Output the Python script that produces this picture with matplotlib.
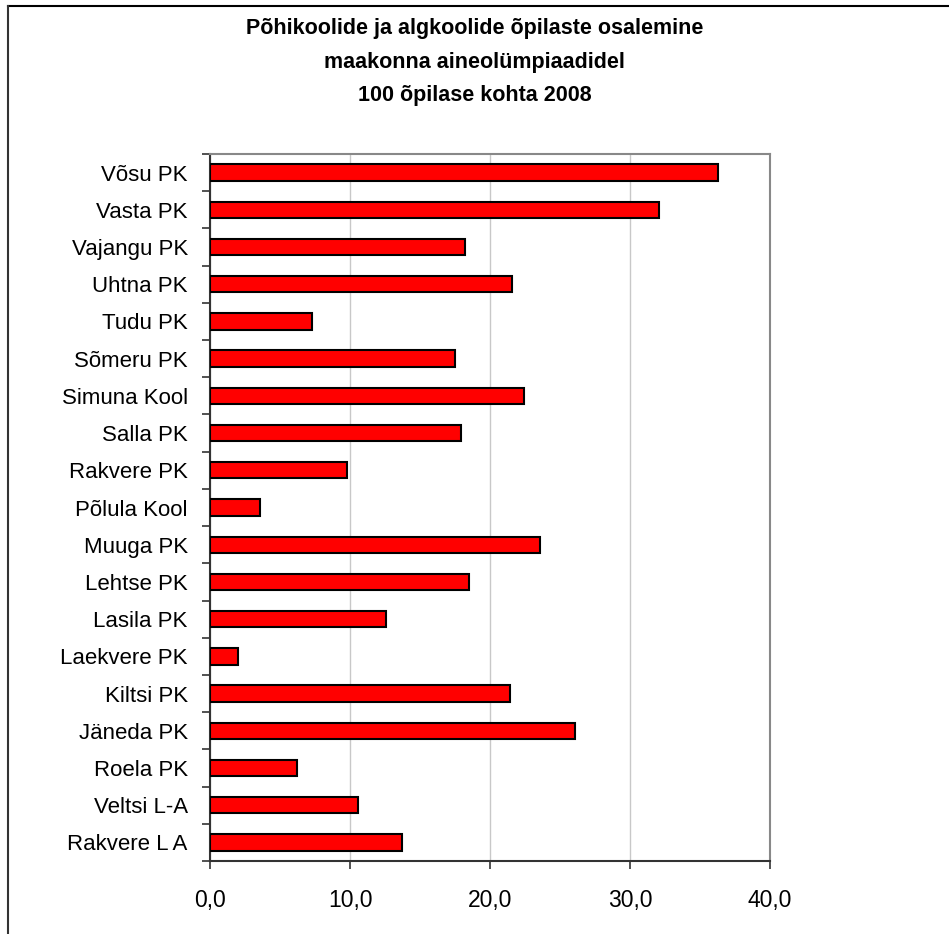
import matplotlib.pyplot as plt
from matplotlib.lines import Line2D
import numpy as np

plt.rcParams['font.family'] = ['Liberation Sans', 'DejaVu Sans']

schools = ["Võsu PK", "Vasta PK", "Vajangu PK", "Uhtna PK", "Tudu PK", "Sõmeru PK",
           "Simuna Kool", "Salla PK", "Rakvere PK", "Põlula Kool", "Muuga PK",
           "Lehtse PK", "Lasila PK", "Laekvere PK", "Kiltsi PK", "Jäneda PK",
           "Roela PK", "Veltsi L-A", "Rakvere L A"]
values = [36.3, 32.1, 18.2, 21.6, 7.3, 17.5, 22.4, 17.9, 9.8, 3.6, 23.6,
          18.5, 12.6, 2.0, 21.4, 26.1, 6.2, 10.6, 13.7]
xticks = [0, 10, 20, 30, 40]
xlabels = ["0,0", "10,0", "20,0", "30,0", "40,0"]
title_lines = ["Põhikoolide ja algkoolide õpilaste osalemine",
               "maakonna aineolümpiaadidel",
               "100 õpilase kohta 2008"]

fig = plt.figure(figsize=(9.49, 9.34), dpi=100)
ax = fig.add_axes([210 / 949, 73 / 934, 560 / 949, 707 / 934])

n = len(schools)
ypos = np.arange(n)[::-1]
ax.barh(ypos, values, height=0.44, color="#ff0000", edgecolor="black", linewidth=1.5, zorder=3)

ax.set_xlim(0, 40)
ax.set_ylim(-0.5, n - 0.5)
ax.set_xticks(xticks)
ax.set_xticklabels(xlabels, fontsize=16.5)
ax.set_yticks(ypos)
ax.set_yticklabels(schools, fontsize=16)
ax.tick_params(axis="y", length=0, pad=16)
ax.set_yticks(np.arange(n + 1) - 0.5, minor=True)
ax.tick_params(axis="y", which="minor", length=6, width=1.2, color="#333333")
ax.tick_params(axis="x", length=6, width=1.2, color="#333333", pad=14)

ax.grid(axis="x", color="#c8c8c8", linewidth=1, zorder=0)
for s in ["top", "right"]:
    ax.spines[s].set_color("#888888")
    ax.spines[s].set_linewidth(1.5)
for s in ["left", "bottom"]:
    ax.spines[s].set_color("#333333")
    ax.spines[s].set_linewidth(1.5)

# three-line bold title, baselines
for line, base in zip(title_lines, [34, 68, 101]):
    fig.text(0.5, 1 - base / 934, line, ha="center", va="baseline",
             fontsize=15.5, fontweight="bold")

# outer chart border (top and left only visible)
fig.add_artist(Line2D([8 / 949, 1], [1 - 6 / 934, 1 - 6 / 934], color="black", linewidth=1.5))
fig.add_artist(Line2D([8 / 949, 8 / 949], [0, 1 - 6 / 934], color="#333333", linewidth=1.5))

fig.savefig("out.png", dpi=100)
